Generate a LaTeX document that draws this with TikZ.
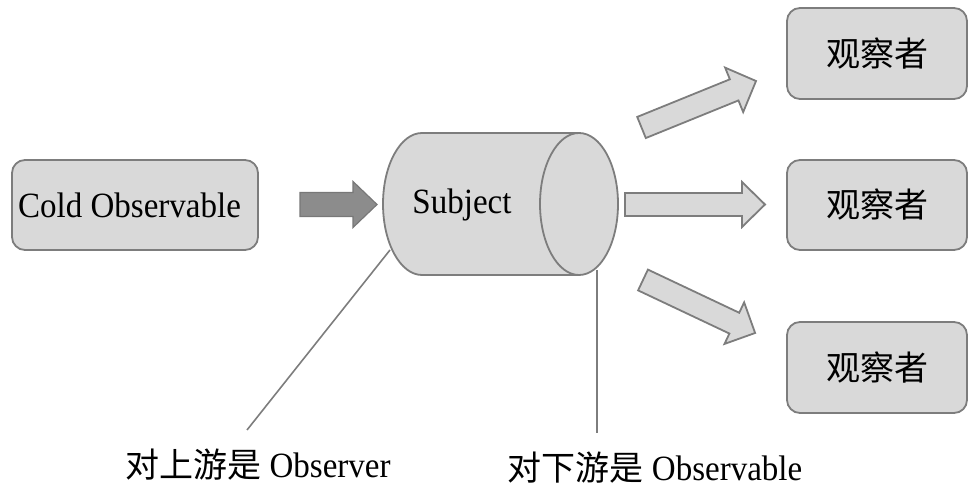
\documentclass[tikz,border=0pt]{standalone}
\usepackage{fontspec}
\setmainfont{Liberation Serif}[FakeStretch=0.93]
\newfontfamily\cjk{Noto Sans CJK SC}
\definecolor{boxfill}{RGB}{217,217,217}
\definecolor{edgegray}{RGB}{125,125,125}
\definecolor{darkfill}{RGB}{140,140,140}
\definecolor{darkedge}{RGB}{120,120,120}
\newcommand{\blockarr}[8]{%
  \begin{scope}[shift={(#1,#2)},rotate=#3]
    \draw[#8] (0,-#5) -- ({#4-#7},-#5) -- ({#4-#7},-#6) -- (#4,0) -- ({#4-#7},#6) -- ({#4-#7},#5) -- (0,#5) -- cycle;
  \end{scope}}
\tikzset{
  rbox/.style={draw=edgegray, line width=1.8pt, fill=boxfill, rounded corners=13pt, inner sep=0pt},
  bigtext/.style={font=\fontsize{35.5}{40}\selectfont},
  cjktext/.style={font=\fontsize{34}{40}\selectfont\cjk},
  lightarrow/.style={draw=edgegray, line width=1.8pt, fill=boxfill, line join=miter},
  darkarrow/.style={draw=darkedge, line width=1.2pt, fill=darkfill},
  leader/.style={draw=edgegray, line width=1.6pt},
}
\begin{document}
\begin{tikzpicture}[x=1pt,y=1pt]
\useasboundingbox (0,0) rectangle (976,489);
% left box
\node[rbox, bigtext, minimum width=246pt, minimum height=90pt] (cold) at (135,284) {\hspace*{-11pt}Cold Observable};
% observers
\node[rbox, cjktext, minimum width=180pt, minimum height=91pt] (obs1) at (877,435.5) {观察者};
\node[rbox, cjktext, minimum width=180pt, minimum height=90pt] (obs2) at (877,284) {观察者};
\node[rbox, cjktext, minimum width=180pt, minimum height=91pt] (obs3) at (877,121.5) {观察者};
% cylinder
\fill[boxfill] (579,356) -- (422,356) arc[start angle=90,end angle=270,x radius=39pt,y radius=71pt] -- (579,214) arc[start angle=-90,end angle=90,x radius=39pt,y radius=71pt] -- cycle;
\draw[edgegray, line width=1.8pt] (579,356) -- (422,356) arc[start angle=90,end angle=270,x radius=39pt,y radius=71pt] -- (579,214);
\draw[edgegray, line width=1.8pt] (579,285) ellipse[x radius=39pt,y radius=71pt];
\node[bigtext] (subj) at (462,284) {Subject};
% block arrows
\blockarr{300}{284.5}{0}{77}{12}{23}{24}{darkarrow}
\blockarr{641.5}{361.5}{22.1}{123.6}{11.4}{24}{23.6}{lightarrow}
\blockarr{625}{284.5}{0}{140}{11.5}{22.5}{23}{lightarrow}
\blockarr{643}{209}{-25.3}{124}{11.5}{23}{23}{lightarrow}
% leaders and labels
\coordinate (up) at (390,239);
\coordinate (upend) at (247,59);
\coordinate (down) at (597,219);
\coordinate (downend) at (597,56);
\draw[leader] (up) -- (upend);
\draw[leader] (down) -- (downend);
\node[bigtext] (lab1) at (258,24) {{\fontsize{34}{40}\cjk 对上游是} Observer};
\node[bigtext] (lab2) at (655,21) {{\fontsize{34}{40}\cjk 对下游是} Observable};
\end{tikzpicture}
\end{document}
